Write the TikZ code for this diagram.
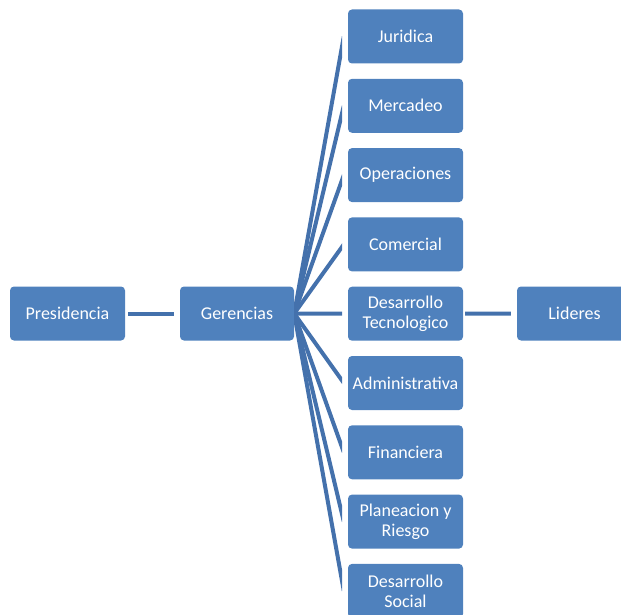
\documentclass[tikz,border=0pt]{standalone}
\usepackage{fontspec}
\setmainfont{Carlito}
\definecolor{boxblue}{HTML}{4F81BD}
\definecolor{lineblue}{HTML}{4471AC}
\begin{document}
\begin{tikzpicture}[x=1pt,y=-1pt,
  box/.style={fill=boxblue, rounded corners=4pt, minimum width=115pt, minimum height=54pt,
    text=white, font=\fontsize{18}{20}\selectfont, align=center, inner sep=0pt},
  link/.style={draw=lineblue, line width=4pt}]
\useasboundingbox (0,0) rectangle (621,615);
\node[box] (pres) at (67.5,313.5) {Presidencia};
\node[box, minimum width=114pt] (ger) at (237,313.5) {Gerencias};
\node[box] (jur) at (405.5,36.5) {Juridica};
\node[box] (mer) at (405.5,105.8) {Mercadeo};
\node[box] (ope) at (405.5,175.1) {Operaciones};
\node[box] (com) at (405.5,244.4) {Comercial};
\node[box] (dt) at (405.5,313.7) {Desarrollo\\Tecnologico};
\node[box] (adm) at (405.5,383) {Administrativa};
\node[box] (fin) at (405.5,452.3) {Financiera};
\node[box] (pla) at (405.5,521.6) {Planeacion y\\Riesgo};
\node[box] (soc) at (405.5,590.9) {Desarrollo\\Social};
\node[box] (lid) at (574.5,313.5) {Lideres};
\draw[link, shorten <=3pt, shorten >=6pt] (pres) -- (ger);
\draw[link, shorten <=2pt, shorten >=6pt] (dt) -- (lid);
\begin{scope}
  \clip (294,0) rectangle (342,615);
  \foreach \n in {jur,mer,ope,com,dt,adm,fin,pla,soc}
    \draw[link] (ger.east) -- ([xshift=-4pt]\n.west);
\end{scope}
\end{tikzpicture}
\end{document}
